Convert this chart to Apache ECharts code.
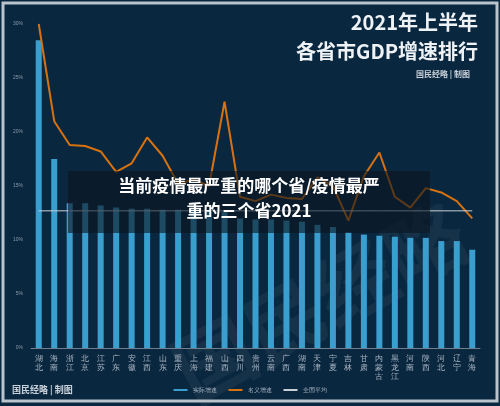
<!DOCTYPE html>
<html><head><meta charset="utf-8">
<script src="https://cdn.jsdelivr.net/npm/echarts@6/dist/echarts.min.js"></script>
<style>html,body{margin:0;padding:0;background:#fff}#c{width:500px;height:406px}</style>
</head><body><div id="c"></div>
<script>
const categories = ['湖北','海南','浙江','北京','江苏','广东','安徽','江西','山东','重庆','上海','福建','山西','四川','贵州','云南','广西','湖南','天津','宁夏','吉林','甘肃','内蒙古','黑龙江','河南','陕西','河北','辽宁','青海'];
const realGrowth = [28.5,17.5,13.4,13.4,13.2,13.0,12.9,12.9,12.8,12.8,12.7,12.6,12.6,12.0,11.9,11.9,11.8,11.7,11.4,11.2,10.7,10.5,10.4,10.3,10.2,10.2,9.9,9.9,9.1];
const nominalGrowth = [30.0,21.0,18.8,18.7,18.2,16.3,17.1,19.5,17.8,15.2,15.6,15.0,22.8,14.0,13.6,14.2,13.9,13.8,15.8,15.0,11.8,15.9,18.1,14.0,13.0,14.8,14.4,13.6,12.0];
const nationalAvg = 12.7;
const yTicks = [0,5,10,15,20,25,30];

const chart = echarts.init(document.getElementById('c'));
chart.setOption({
  backgroundColor:'#0a2740',
  animation:false,
  graphic:[
    {type:'rect',shape:{x:3,y:3,width:494,height:398},style:{fill:'none',stroke:'#b9c3cc',lineWidth:3},z:100},
    {type:'text',left:160,top:190,rotation:0.5,style:{text:'国民经略',fill:'rgba(255,255,255,0.05)',font:'bold 80px "Noto Sans CJK SC"'},z:0},
    {type:'text',right:22,top:12,style:{text:'2021年上半年',fill:'#eef2f5',font:'bold 20px "Noto Sans CJK SC"',textAlign:'right'},z:10},
    {type:'text',right:22,top:41,style:{text:'各省市GDP增速排行',fill:'#eef2f5',font:'bold 20px "Noto Sans CJK SC"',textAlign:'right'},z:10},
    {type:'text',right:30,top:70,style:{text:'国民经略 | 制图',fill:'#c9d2da',font:'bold 8px "Noto Sans CJK SC"',textAlign:'right'},z:10},
    {type:'text',left:12,top:385,style:{text:'国民经略 | 制图',fill:'#c9d2da',font:'bold 9px "Noto Sans CJK SC"'},z:10},
    {type:'rect',shape:{x:68,y:171,width:362,height:62},style:{fill:'rgba(10,20,30,0.6)'},z:50},
    {type:'text',x:249,y:177,style:{text:'当前疫情最严重的哪个省/疫情最严',fill:'#ffffff',font:'bold 17px "Noto Sans CJK SC"',textAlign:'center'},z:51},
    {type:'text',x:249,y:202,style:{text:'重的三个省2021',fill:'#ffffff',font:'bold 17px "Noto Sans CJK SC"',textAlign:'center'},z:51}
  ],
  legend:{bottom:8,left:'center',itemWidth:14,itemHeight:2,itemGap:12,icon:'rect',
    textStyle:{color:'#aab6c2',fontSize:6},
    data:['实际增速','名义增速','全国平均']},
  grid:{left:31,right:20,top:24,bottom:58},
  xAxis:{type:'category',data:categories,
    axisLine:{lineStyle:{color:'#6d7f90'}},axisTick:{show:false},
    axisLabel:{interval:0,color:'#aab6c2',fontSize:8,lineHeight:9,margin:6,formatter:v=>v.split('').join('\n')}},
  yAxis:{type:'value',min:0,max:30,interval:5,
    axisLabel:{color:'#8a99a8',fontSize:5,formatter:v=>v+'%'},
    splitLine:{show:false},axisLine:{show:false},axisTick:{show:false}},
  series:[
    {name:'实际增速',type:'bar',data:realGrowth,barWidth:6,itemStyle:{color:'#3a9fce'},z:2},
    {name:'名义增速',type:'line',data:nominalGrowth,symbol:'none',lineStyle:{color:'#d8720e',width:2},itemStyle:{color:'#d8720e'},z:3},
    {name:'全国平均',type:'line',data:categories.map(()=>nationalAvg),symbol:'none',lineStyle:{color:'#c8d0d8',width:1},itemStyle:{color:'#c8d0d8'},z:4}
  ]
});
</script></body></html>
